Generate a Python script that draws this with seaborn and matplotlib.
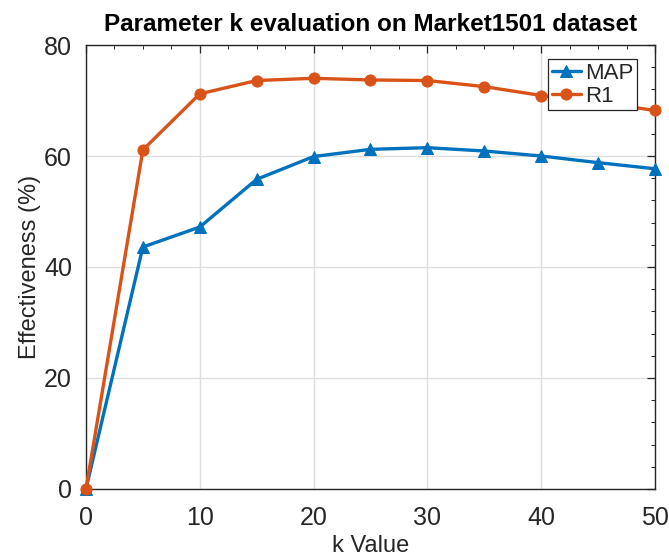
import matplotlib
matplotlib.use("Agg")
import matplotlib.pyplot as plt
from matplotlib.ticker import MultipleLocator
import seaborn as sns
import pandas as pd

# k values and the two evaluation metrics (%)
k_values = [0, 5, 10, 15, 20, 25, 30, 35, 40, 45, 50]
map_scores = [0, 43.6, 47.2, 55.8, 59.9, 61.2, 61.5, 60.9, 60.0, 58.8, 57.7]
r1_scores = [0, 61.1, 71.2, 73.6, 74.0, 73.7, 73.6, 72.5, 70.9, 69.7, 68.2]
x_ticks = [0, 10, 20, 30, 40, 50]
y_ticks = [0, 20, 40, 60, 80]

sns.set_style("white")
plt.rcParams["font.family"] = ["Liberation Sans", "DejaVu Sans"]

text_color = "#262626"
blue = "#0072BD"
orange = "#D95319"

df = pd.DataFrame({"k": k_values, "MAP": map_scores, "R1": r1_scores})

fig = plt.figure(figsize=(6.69, 5.57), dpi=100)
ax = fig.add_axes([0.1285, 0.1221, 0.8506, 0.7971])

sns.lineplot(data=df, x="k", y="MAP", ax=ax, color=blue, marker="^",
             markersize=9, linewidth=2.4, markeredgecolor=blue,
             label="MAP", clip_on=False, zorder=3)
sns.lineplot(data=df, x="k", y="R1", ax=ax, color=orange, marker="o",
             markersize=8, linewidth=2.4, markeredgecolor=orange,
             label="R1", clip_on=False, zorder=4)

ax.set_xlim(0, 50)
ax.set_ylim(0, 80)
ax.set_xticks(x_ticks)
ax.set_yticks(y_ticks)
ax.xaxis.set_minor_locator(MultipleLocator(2.5))
ax.yaxis.set_minor_locator(MultipleLocator(4))

ax.grid(True, which="major", color="#dedede", linewidth=1.0)
ax.set_axisbelow(True)

for side in ["left", "right", "top", "bottom"]:
    ax.spines[side].set_visible(True)
    ax.spines[side].set_color(text_color)
    ax.spines[side].set_linewidth(1.0)

ax.tick_params(axis="both", which="major", direction="in", length=6,
               width=0.9, color=text_color, labelsize=18,
               labelcolor=text_color, top=True, right=True)
ax.tick_params(axis="x", which="major", pad=12)
ax.tick_params(axis="y", which="major", pad=10)
ax.tick_params(axis="both", which="minor", direction="in", length=3,
               width=0.7, color=text_color, top=True, right=True)

ax.set_xlabel("k Value", fontsize=17, color=text_color, labelpad=4)
ax.set_ylabel("Effectiveness (%)", fontsize=17, color=text_color, labelpad=2)
ax.set_title("Parameter k evaluation on Market1501 dataset",
             fontsize=17.5, fontweight="bold", color="black", pad=10)

leg = ax.legend(loc="upper right", bbox_to_anchor=(0.968, 0.968),
                borderaxespad=0, fontsize=16, frameon=True, fancybox=False,
                framealpha=1, edgecolor=text_color, handlelength=1.3,
                handletextpad=0.2, borderpad=0.15, labelspacing=0.1)
leg.get_frame().set_linewidth(0.9)
leg.set_zorder(10)

fig.savefig("out.png", dpi=100)
